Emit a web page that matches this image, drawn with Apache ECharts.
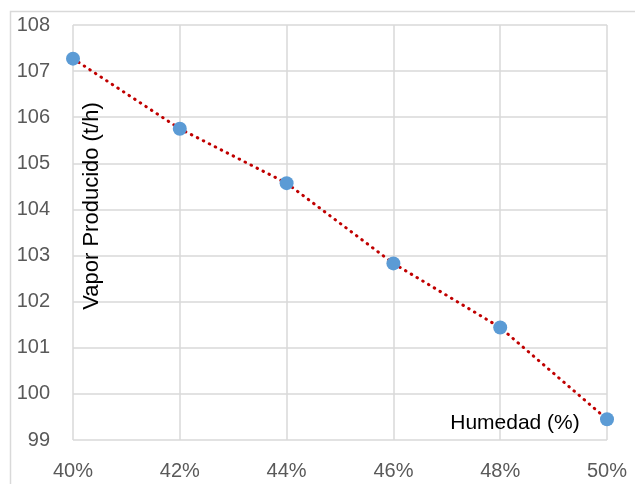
<!DOCTYPE html>
<html>
<head>
<meta charset="utf-8">
<script src="https://cdn.jsdelivr.net/npm/echarts@6/dist/echarts.min.js"></script>
<style>
html,body{margin:0;padding:0;background:#fff;}
#chart{width:635px;height:484px;}
</style>
</head>
<body>
<div id="chart"></div>
<script>
// Data
const humedad = [40, 42, 44, 46, 48, 50];          // % moisture (x)
const vapor = [107.27, 105.75, 104.57, 102.83, 101.44, 99.45]; // t/h (y)
const xTitle = 'Humedad (%)';
const yTitle = 'Vapor Producido (t/h)';

const points = humedad.map((h, i) => [h, vapor[i]]);

const chart = echarts.init(document.getElementById('chart'), null, {renderer: 'canvas'});
const font = 'Liberation Sans, Arial, sans-serif';
chart.setOption({
  animation: false,
  backgroundColor: '#ffffff',
  grid: {left: 73, right: 28, top: 25, bottom: 44, containLabel: false},
  xAxis: {
    type: 'value', min: 40, max: 50, interval: 2,
    axisLine: {show: false},
    axisTick: {show: false},
    splitLine: {show: true, lineStyle: {color: '#d9d9d9', width: 1.5}},
    axisLabel: {
      formatter: v => v + '%', color: '#595959', fontSize: 20, fontFamily: font, margin: 21
    }
  },
  yAxis: {
    type: 'value', min: 99, max: 108, interval: 1,
    axisLine: {show: false},
    axisTick: {show: false},
    splitLine: {show: true, lineStyle: {color: '#d9d9d9', width: 1.5}},
    axisLabel: {color: '#595959', fontSize: 20, fontFamily: font, margin: 23}
  },
  graphic: [
    {type: 'rect', silent: true, z: -1,
     shape: {x: 10.5, y: 11.5, width: 800, height: 800},
     style: {fill: 'none', stroke: '#d9d9d9', lineWidth: 1.5}},
    {type: 'text', x: 92, y: 206, rotation: Math.PI / 2, z: 10,
     style: {text: yTitle, fill: '#000000', fontSize: 22, fontFamily: font, textAlign: 'center', textVerticalAlign: 'middle'}},
    {type: 'text', x: 515, y: 423, z: 10,
     style: {text: xTitle, fill: '#000000', fontSize: 21, fontFamily: font, textAlign: 'center', textVerticalAlign: 'middle'}}
  ],
  series: [{
    type: 'line',
    data: points,
    symbol: 'circle',
    symbolSize: 14,
    itemStyle: {color: '#5b9bd5'},
    lineStyle: {color: '#c00000', width: 3, type: [0.5, 6.2], cap: 'round'},
    z: 3
  }]
});
</script>
</body>
</html>
